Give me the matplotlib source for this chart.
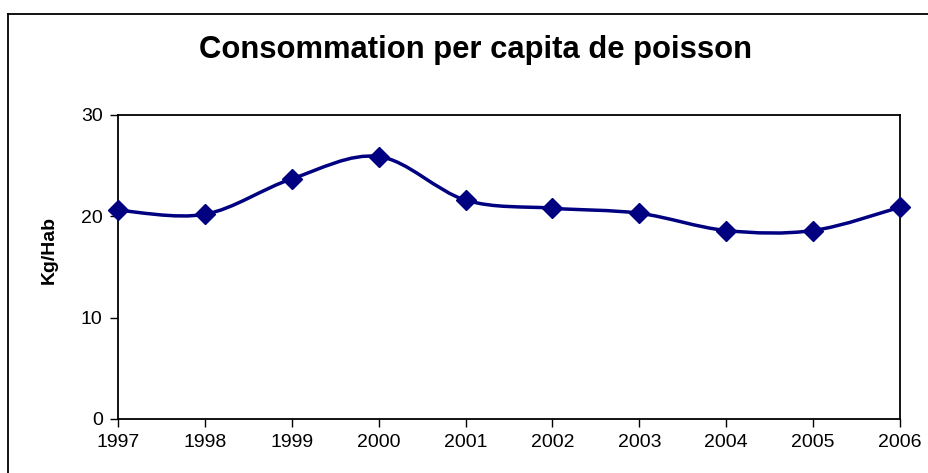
import matplotlib
matplotlib.use("Agg")
import matplotlib.pyplot as plt
from matplotlib.path import Path
from matplotlib.patches import PathPatch
from matplotlib.lines import Line2D

plt.rcParams["font.family"] = ["Liberation Sans", "DejaVu Sans"]

years = [1997, 1998, 1999, 2000, 2001, 2002, 2003, 2004, 2005, 2006]
kg_per_hab = [20.6, 20.2, 23.7, 25.9, 21.6, 20.8, 20.3, 18.6, 18.6, 20.9]
y_ticks = [0, 10, 20, 30]

LINE_COLOR = "#000080"


def smooth_path(xs, ys):
    # Excel style smoothed line: cubic Bezier segments with Catmull-Rom tangents
    verts = [(xs[0], ys[0])]
    codes = [Path.MOVETO]
    n = len(xs)
    for i in range(n - 1):
        x0, y0 = (xs[i - 1], ys[i - 1]) if i > 0 else (xs[i], ys[i])
        x1, y1 = xs[i], ys[i]
        x2, y2 = xs[i + 1], ys[i + 1]
        x3, y3 = (xs[i + 2], ys[i + 2]) if i + 2 < n else (x2, y2)
        c1 = (x1 + (x2 - x0) / 6, y1 + (y2 - y0) / 6)
        c2 = (x2 - (x3 - x1) / 6, y2 - (y3 - y1) / 6)
        verts += [c1, c2, (x2, y2)]
        codes += [Path.CURVE4] * 3
    return Path(verts, codes)


fig = plt.figure(figsize=(9.29, 4.73), dpi=100)
ax = fig.add_axes([0.127, 0.1142, 0.8418, 0.6427])

ax.add_patch(PathPatch(smooth_path(years, kg_per_hab), facecolor="none",
                       edgecolor=LINE_COLOR, linewidth=2.5, zorder=3, clip_on=False))
ax.plot(years, kg_per_hab, linestyle="none", marker="D", markersize=10,
        color=LINE_COLOR, zorder=4, clip_on=False)

ax.set_xlim(1997, 2006)
ax.set_ylim(0, 30)
ax.set_xticks(years)
ax.set_yticks(y_ticks)
ax.tick_params(axis="both", direction="out", length=6, width=1, labelsize=14, pad=5)
for side in ["left", "right", "top", "bottom"]:
    ax.spines[side].set_linewidth(1.3)
    ax.spines[side].set_color("black")

ax.set_ylabel("Kg/Hab", fontsize=14, fontweight="bold", labelpad=17, y=0.556)
fig.text(0.512, 0.894, "Consommation per capita de poisson", fontsize=22.3,
         fontweight="bold", ha="center", va="center")

# outer chart border (left and top visible)
fig.add_artist(Line2D([0.009, 0.009], [0.0, 0.971], color="black", linewidth=1.3))
fig.add_artist(Line2D([0.009, 1.0], [0.971, 0.971], color="black", linewidth=1.3))

fig.savefig("out.png", dpi=100)
